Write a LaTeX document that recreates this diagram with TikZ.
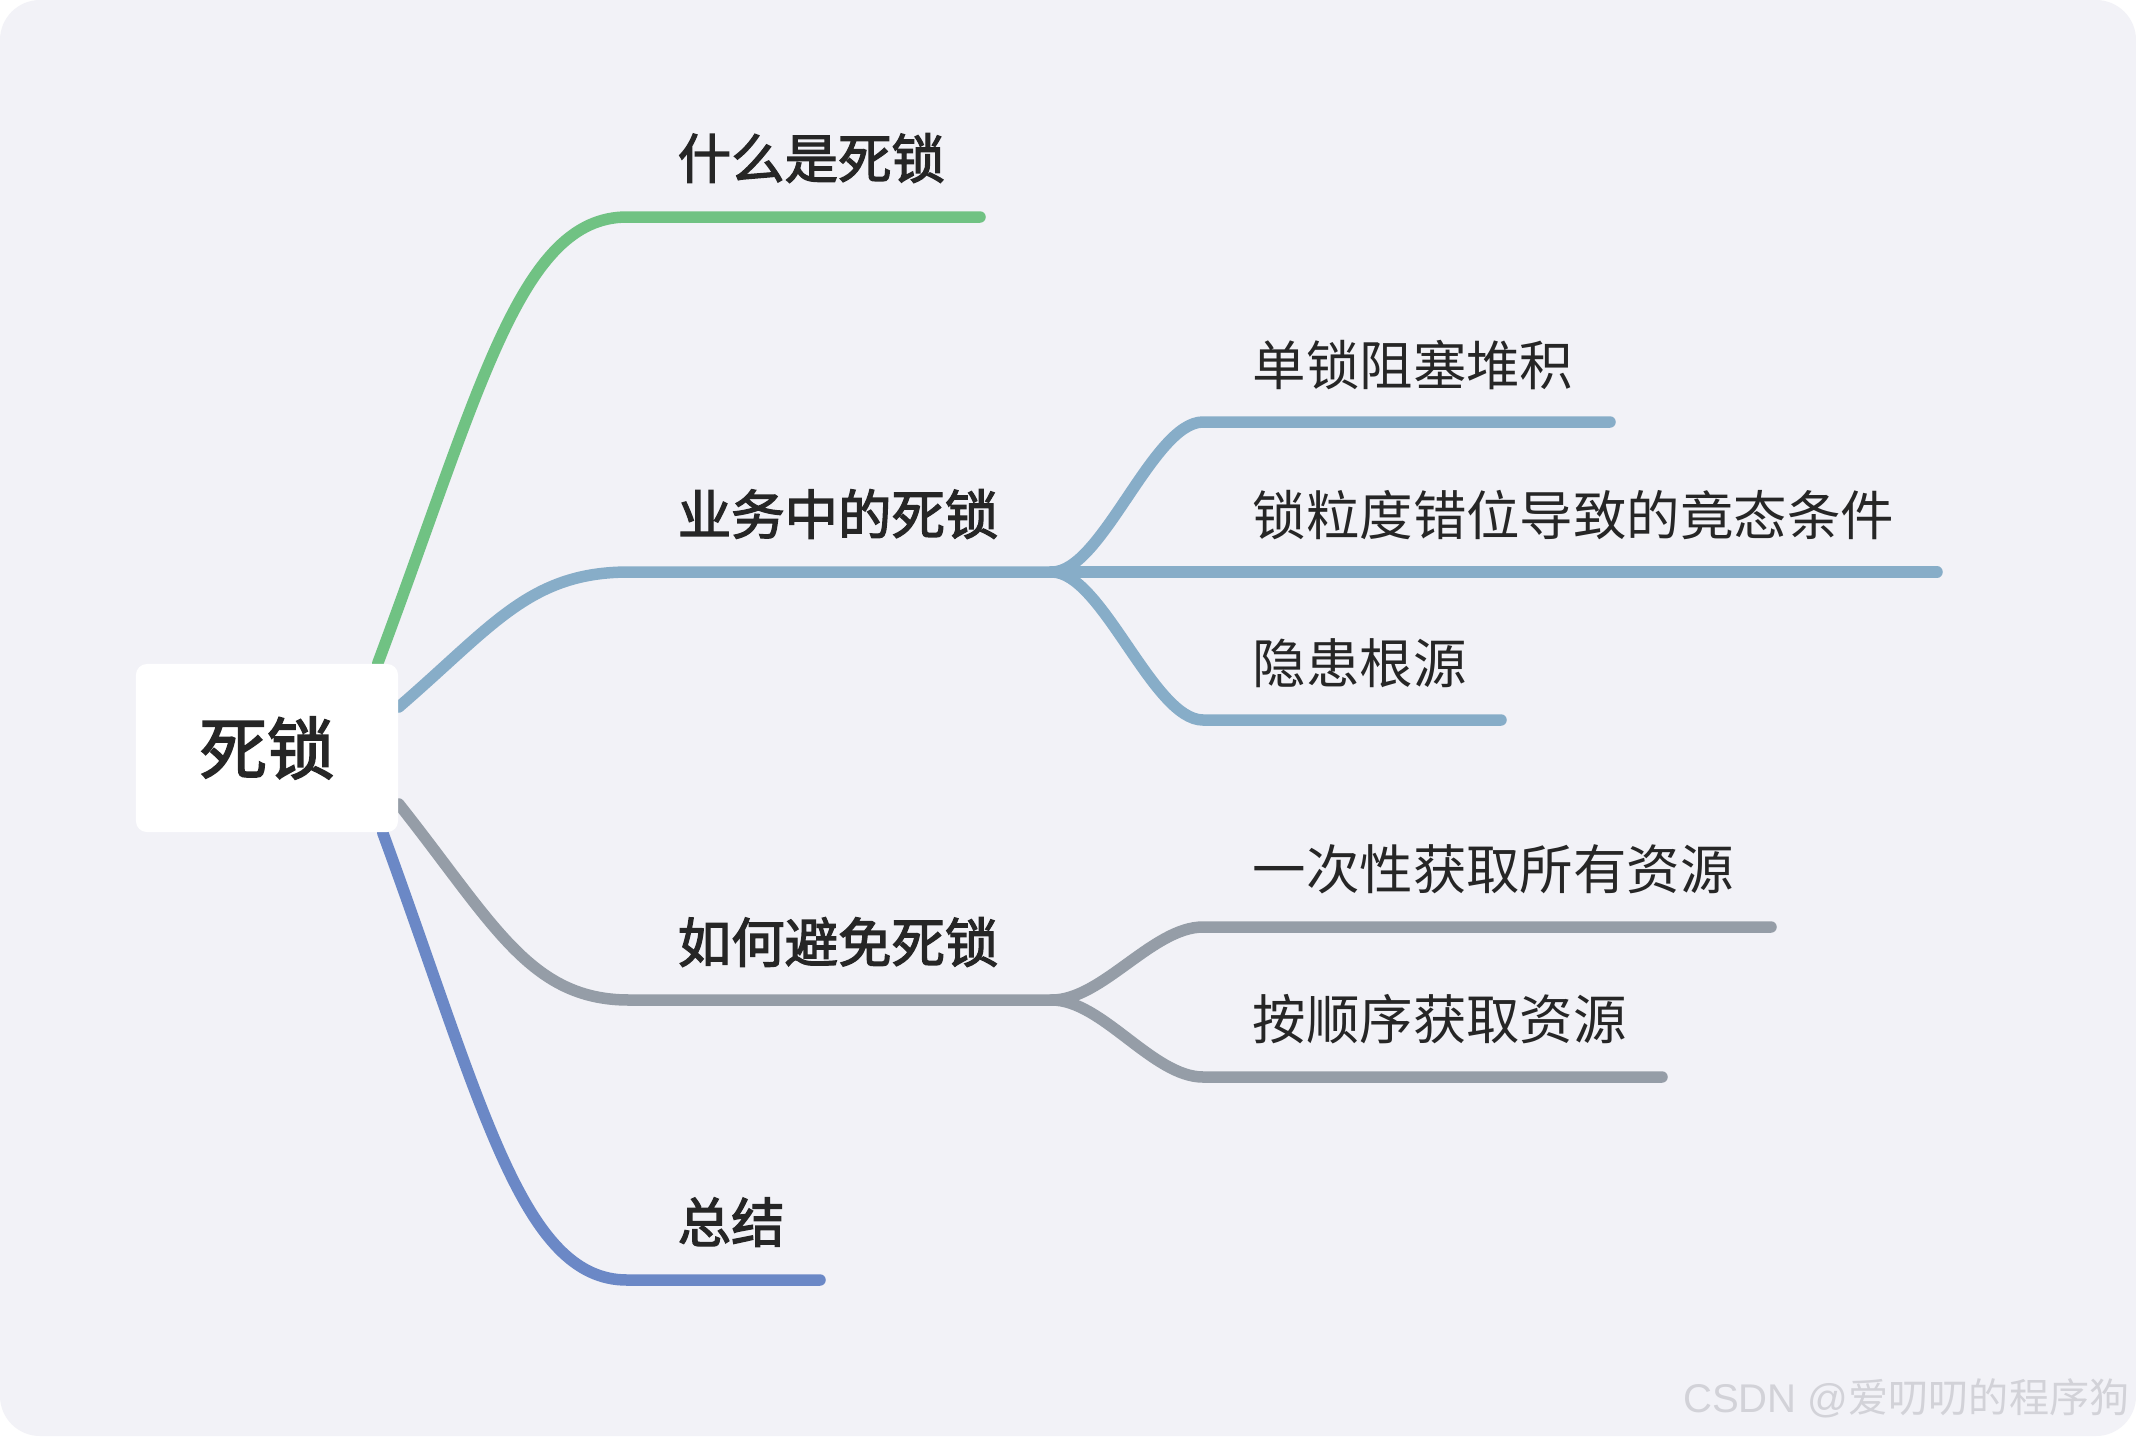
\documentclass[tikz,border=0pt]{standalone}
\usepackage{fontspec}
\setmainfont{Noto Sans CJK SC}
\newfontfamily\medfont[FakeBold=2.4]{Noto Sans CJK SC}
\newfontfamily\markfont{Liberation Sans}
\definecolor{mmInk}{HTML}{262626}
\definecolor{mmPaper}{HTML}{F2F2F7}
\definecolor{mmGreen}{HTML}{70C283}
\definecolor{mmSteel}{HTML}{87ADC8}
\definecolor{mmSlate}{HTML}{959DA7}
\definecolor{mmBlue}{HTML}{6B88C6}
\definecolor{mmMark}{HTML}{D2D2D8}
\usetikzlibrary{calc,backgrounds,positioning}

\begin{document}
\begin{tikzpicture}[x=0.01cm,y=-0.01cm,
  branch/.style={line width=1.15mm,line cap=round,line join=round},
  rootbox/.style={fill=white,rounded corners=1.1mm,minimum width=2.62cm,minimum height=1.68cm,
                  inner sep=0pt,text=mmInk,font=\fontsize{19.2}{22}\medfont},
  topic/.style={anchor=west,inner sep=0pt,text=mmInk,font=\fontsize{15.2}{18}\medfont},
  subtopic/.style={anchor=west,inner sep=0pt,text=mmInk,font=\fontsize{15.2}{18}\selectfont}]
\useasboundingbox (0,0) rectangle (2136,1436);
\node[rootbox] (root) at (267,748) {死锁};
% bends where the level-1 branches turn flat
\coordinate (k1) at (627,217);
\coordinate (k2) at (629,572);
\coordinate (k3) at (629,1000);
\coordinate (k4) at (627,1280);
% forks and ends
\coordinate (j2) at (1052,572);
\coordinate (j3) at (1052,1000);
\coordinate (s21) at (1203,422);
\coordinate (s23) at (1203,720);
\coordinate (s31) at (1203,927);
\coordinate (s32) at (1203,1077);
% labels
\node[topic] (what)  at ($(k1)+(50,-59)$) {什么是死锁};
\node[topic] (biz)   at ($(k2)+(48,-58)$) {业务中的死锁};
\node[topic] (avoid) at ($(k3)+(48,-58)$) {如何避免死锁};
\node[topic] (sum)   at ($(k4)+(50,-58)$) {总结};
\node[subtopic] (single) at ($(s21)+(49,-57)$) {单锁阻塞堆积};
\node[subtopic] (grain)  at ($(j2)+(200,-57)$) {锁粒度错位导致的竟态条件};
\node[subtopic] (root2)  at ($(s23)+(49,-57)$) {隐患根源};
\node[subtopic] (once)   at ($(s31)+(49,-58)$) {一次性获取所有资源};
\node[subtopic] (order)  at ($(s32)+(49,-58)$) {按顺序获取资源};
\node[anchor=east,inner sep=0pt,text=mmMark,font=\fontsize{11.4}{13}\selectfont]
  (mark) at (2130,1398) {{\markfont CSDN @}爱叨叨的程序狗};
\begin{scope}[on background layer]
  \fill[white] (0,0) rectangle (2136,1436);
  \fill[mmPaper,rounded corners=4mm] (0,0) rectangle (2136,1436);
  % green
  \draw[branch,mmGreen] ($(root.north east)+(-21,0)$) .. controls +(103,-275) and +(-107,0) .. (k1)
    -- (980,217);
  % steel, with three children
  \draw[branch,mmSteel] ($(root.east)+(0,-41)$) .. controls +(95,-82) and +(-99,0) .. (k2) -- (j2);
  \draw[branch,mmSteel] (j2) .. controls +(50,0) and +(-50,0) .. (s21) -- (1610,422);
  \draw[branch,mmSteel] (j2) -- (1937,572);
  \draw[branch,mmSteel] (j2) .. controls +(50,0) and +(-50,0) .. (s23) -- (1501,720);
  % slate, with two children
  \draw[branch,mmSlate] ($(root.east)+(0,56)$) .. controls +(95,120) and +(-99,0) .. (k3) -- (j3);
  \draw[branch,mmSlate] (j3) .. controls +(50,0) and +(-50,0) .. (s31) -- (1771,927);
  \draw[branch,mmSlate] (j3) .. controls +(50,0) and +(-50,0) .. (s32) -- (1662,1077);
  % blue
  \draw[branch,mmBlue] ($(root.south east)+(-16,0)$) .. controls +(100,273) and +(-105,0) .. (k4)
    -- (820,1280);
\end{scope}
\end{tikzpicture}
\end{document}
